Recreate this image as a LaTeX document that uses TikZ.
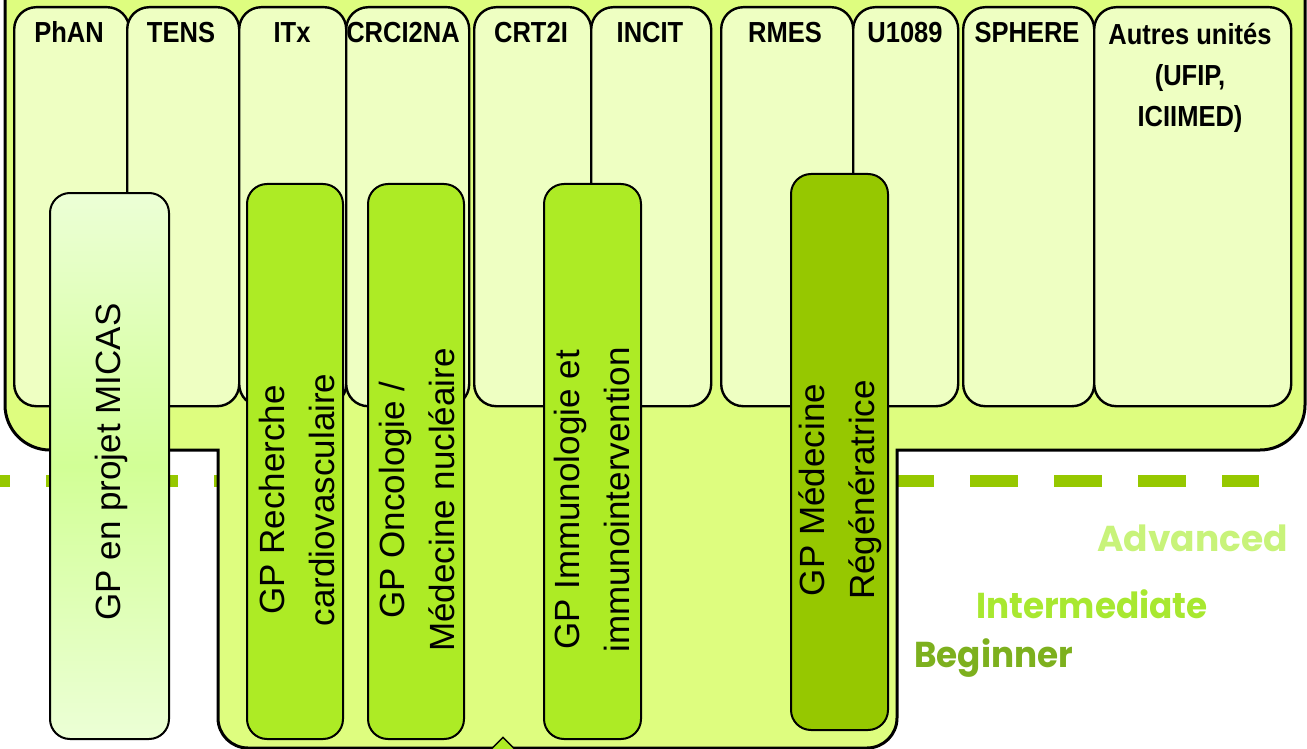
\documentclass[tikz,border=0pt]{standalone}
\usepackage{fontspec}
\setmainfont{Liberation Sans}
\newfontfamily\hdrfont[FakeStretch=0.88]{Liberation Sans}
\newfontfamily\lvlfont{Poppins}
\usetikzlibrary{shapes.geometric}
\definecolor{bigfill}{RGB}{222,253,127}
\definecolor{unitfill}{RGB}{238,255,194}
\definecolor{gpfill}{RGB}{173,235,37}
\definecolor{regenfill}{RGB}{150,200,0}
\definecolor{micasA}{RGB}{236,255,214}
\definecolor{micasB}{RGB}{210,255,150}
\definecolor{dashcol}{RGB}{150,200,0}
\definecolor{advcol}{RGB}{200,243,122}
\definecolor{intcol}{RGB}{168,232,48}
\definecolor{begcol}{RGB}{125,176,30}
\tikzset{
  unitbox/.style={draw=black, line width=2.4pt, fill=unitfill, rounded corners=22pt, anchor=north west, inner sep=0pt, minimum height=399pt},
  gpbox/.style={draw=black, line width=2pt, rounded corners=20pt, anchor=north west, inner sep=0pt},
  hdr/.style={font=\hdrfont\bfseries\fontsize{29}{41}\selectfont, anchor=base, inner sep=0pt, align=center},
  gptext/.style={font=\fontsize{35}{50}\selectfont, rotate=90, align=center, inner sep=0pt},
  lvl/.style={font=\lvlfont\bfseries\fontsize{36}{40}\selectfont, inner sep=0pt}
}
\begin{document}
\begin{tikzpicture}[x=1pt,y=1pt]
\useasboundingbox (0,0) rectangle (1307,-749);
\clip (0,0) rectangle (1307,-749);
% dashed level line
\draw[dashcol, line width=12pt, dash pattern=on 48pt off 36pt] (-38,-481) -- (1259,-481);
% big background shape
\draw[fill=bigfill, line width=3pt] (5,10) -- (5,-405) arc[start angle=180, end angle=270, radius=45]
  -- (218,-450) -- (218,-718) arc[start angle=180, end angle=270, radius=30]
  -- (867,-748) arc[start angle=270, end angle=360, radius=30]
  -- (897,-450) -- (1260,-450) arc[start angle=270, end angle=360, radius=45]
  -- (1305,10) -- cycle;
% unit boxes
\node[unitbox, minimum width=115pt] (phan) at (13,-6) {};
\node[unitbox, minimum width=112pt] (tens) at (126,-6) {};
\node[unitbox, minimum width=107pt] (itx) at (238,-6) {};
\node[unitbox, minimum width=123pt] (crci) at (345,-6) {};
\node[unitbox, minimum width=117pt] (crt) at (473,-6) {};
\node[unitbox, minimum width=120pt] (incit) at (590,-6) {};
\node[unitbox, minimum width=132pt] (rmes) at (720,-6) {};
\node[unitbox, minimum width=105pt] (u1089) at (852,-6) {};
\node[unitbox, minimum width=131pt] (sphere) at (962,-6) {};
\node[unitbox, minimum width=197pt] (autres) at (1093,-6) {};
% unit labels
\node[hdr] (phanL) at (69,-43) {PhAN};
\node[hdr] (tensL) at (181,-43) {TENS};
\node[hdr] (itxL) at (292,-43) {ITx};
\node[hdr] (crciL) at (403,-43) {CRCI2NA};
\node[hdr] (crtL) at (531,-43) {CRT2I};
\node[hdr] (incitL) at (650,-43) {INCIT};
\node[hdr] (rmesL) at (785,-43) {RMES};
\node[hdr] (u1089L) at (905,-43) {U1089};
\node[hdr] (sphereL) at (1027,-43) {SPHERE};
\node[hdr] (autresL) at (1190,-127) {Autres unités\\(UFIP,\\ICIIMED)};
% GP boxes
\node[gpbox, top color=micasA, bottom color=micasA, middle color=micasB, minimum width=119pt, minimum height=546pt] (micas) at (49,-192) {};
\node[gpbox, fill=gpfill, minimum width=96pt, minimum height=555pt] (rech) at (246,-183) {};
\node[gpbox, fill=gpfill, minimum width=96pt, minimum height=555pt] (onco) at (367,-183) {};
\node[gpbox, fill=gpfill, minimum width=97pt, minimum height=555pt] (immu) at (543,-183) {};
\node[gpbox, fill=regenfill, minimum width=97pt, minimum height=556pt] (regen) at (790,-173) {};
% GP texts
\node[gptext] (micasT) at (111,-462) {GP en projet MICAS};
\node[gptext] (rechT) at (297,-500) {GP Recherche\\cardiovasculaire};
\node[gptext] (oncoT) at (417,-500) {GP Oncologie /\\Médecine nucléaire};
\node[gptext] (immuT) at (592,-500) {GP Immunologie et\\immunointervention};
\node[gptext] (regenT) at (840,-490) {GP Médecine\\Régénératrice};
% small marker at the bottom
\node[diamond, draw=black, line width=1.5pt, fill=gpfill, minimum width=26pt, minimum height=26pt, inner sep=0pt] (tip) at (503,-750) {};
% level labels
\node[lvl, text=advcol, anchor=base east] (adv) at (1288,-551) {Advanced};
\node[lvl, text=intcol, anchor=base west, xscale=0.95] (inter) at (976,-618) {Intermediate};
\node[lvl, text=begcol, anchor=base west, xscale=0.95] (beg) at (914,-667) {Beginner};
\end{tikzpicture}
\end{document}
